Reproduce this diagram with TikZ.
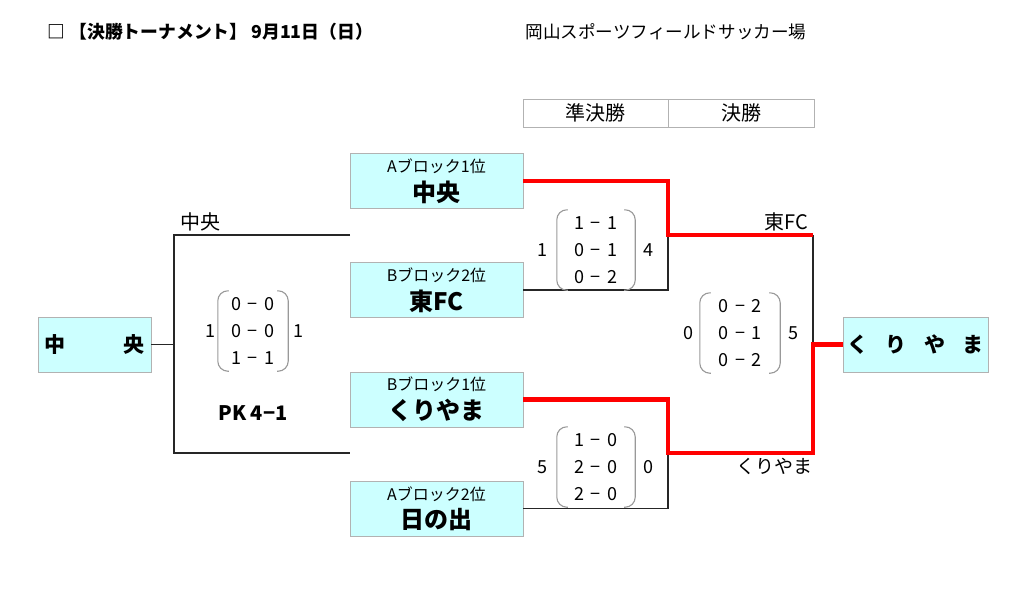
\documentclass[tikz,border=0pt]{standalone}
\usepackage{fontspec}
\setmainfont{Noto Sans CJK JP}
\usetikzlibrary{calc}
\definecolor{boxfill}{HTML}{CCFFFF}

\tikzset{
  team/.style={draw=gray!60, fill=boxfill, minimum width=173pt, minimum height=55pt, inner sep=0pt, align=center},
  champ/.style={draw=gray!60, fill=boxfill, minimum height=55pt, inner sep=0pt, font=\fontsize{21}{24}\selectfont\bfseries},
  hdr/.style={draw=gray!60, minimum width=145pt, minimum height=28pt, inner sep=0pt, font=\fontsize{20}{22}\selectfont},
  score/.style={minimum width=78pt, minimum height=80pt, inner sep=0pt, align=center, font=\fontsize{18}{27}\selectfont},
  goal/.style={font=\fontsize{18}{20}\selectfont},
  winner/.style={font=\fontsize{20}{22}\selectfont},
  paren/.style={draw=gray!80, line width=1.1pt, rounded corners=10pt},
  lose/.style={black!85, line width=1.6pt},
  win/.style={red, line width=4.8pt}
}
\newcommand{\teamtxt}[2]{{\fontsize{16}{18}\selectfont #1}\\[6pt]{\fontsize{24}{26}\selectfont\bfseries #2}}
\newcommand{\vs}{\hspace{7pt}−\hspace{7pt}}
\newcommand{\parens}[1]{%
  \draw[paren] ([xshift=11pt]#1.north west) -- (#1.north west) -- (#1.south west) -- ([xshift=11pt]#1.south west);
  \draw[paren] ([xshift=-11pt]#1.north east) -- (#1.north east) -- (#1.south east) -- ([xshift=-11pt]#1.south east);}

\begin{document}
\begin{tikzpicture}[x=1pt, y=-1pt]
\useasboundingbox (0,0) rectangle (1024,590);

% heading
\node[anchor=west, font=\fontsize{17.8}{20}\selectfont\bfseries] (title) at (44,32) {□ 【決勝トーナメント】 9月11日（日）};
\node[anchor=west, font=\fontsize{17.6}{20}\selectfont] (venue) at (522,32) {岡山スポーツフィールドサッカー場};
\node[hdr] (hsemi) at (595.5,113) {準決勝};
\node[hdr, minimum width=146pt] (hfinal) at (741,113) {決勝};

% teams
\node[team] (a1) at (436.5,181) {\teamtxt{Aブロック1位}{中央}};
\node[team] (b2) at (436.5,290) {\teamtxt{Bブロック2位}{東FC}};
\node[team] (b1) at (436.5,399.5) {\teamtxt{Bブロック1位}{くりやま}};
\node[team] (a2) at (436.5,508.5) {\teamtxt{Aブロック2位}{日の出}};
\node[champ, minimum width=113pt] (lwin) at (94.5,344.5) {\makebox[100pt]{中\hfill 央}};
\node[champ, minimum width=145pt] (rwin) at (915.5,344.5) {\makebox[136pt]{く\hfill り\hfill や\hfill ま}};

% bracket points
\coordinate (lt) at (174,235);
\coordinate (lb) at (174,453);
\coordinate (lte) at (350,235);
\coordinate (lbe) at (350,453);
\coordinate (s1) at (668,235);
\coordinate (s2) at (668,453);
\coordinate (ft) at (813,235);
\coordinate (fb) at (813,453);
\coordinate (fm) at (813,344.5);

% black lines
\draw[lose] (lte) -- (lt) -- (lb) -- (lbe);
\draw[lose] (lwin.east) -- (lwin.east -| lt);
\draw[lose] (b2.east) -- (b2.east -| s1) -- (s1);
\draw[lose] (a2.east) -- (a2.east -| s2) -- (s2);
\draw[lose] (ft) -- (fm);

% red lines
\draw[win] (a1.east) -- (a1.east -| s1) -- (s1) -- (ft);
\draw[win] (b1.east) -- (b1.east -| s2) -- (s2) -- (fb) -- (fm) -- (rwin.west);

% labels
\node[winner] (lname) at (200,222) {中央};
\node[winner] (tname) at (786,222) {東FC};
\node[winner, font=\fontsize{19}{22}\selectfont] (bname) at (774,466) {くりやま};

% scores
\node[score, minimum width=70pt] (sc0) at (253,331) {0\vs 0\\0\vs 0\\1\vs 1};
\parens{sc0}
\node[goal] at (210,331) {1};
\node[goal] at (298,331) {1};
\node[font=\fontsize{20}{22}\selectfont\bfseries] (pk) at (253,413) {PK 4−1};

\node[score] (sc1) at (596,250) {1\vs 1\\0\vs 1\\0\vs 2};
\parens{sc1}
\node[goal] at (542,250) {1};
\node[goal] at (648,250) {4};

\node[score] (sc2) at (596,467) {1\vs 0\\2\vs 0\\2\vs 0};
\parens{sc2}
\node[goal] at (542,467) {5};
\node[goal] at (648,467) {0};

\node[score, minimum width=80pt] (sc3) at (740,333) {0\vs 2\\0\vs 1\\0\vs 2};
\parens{sc3}
\node[goal] at (688,333) {0};
\node[goal] at (793,333) {5};
\end{tikzpicture}
\end{document}
